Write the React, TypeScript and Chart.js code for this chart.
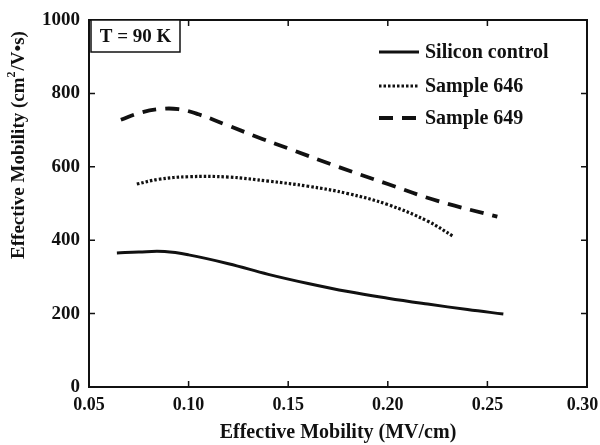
import React, { useEffect, useRef } from "react";
import { Chart, registerables } from "chart.js";
Chart.register(...registerables);

const siliconX = [0.064, 0.075, 0.088, 0.1, 0.12, 0.14, 0.16, 0.18, 0.2, 0.22, 0.24, 0.258];
const siliconY = [365, 368, 369, 360, 336, 307, 282, 260, 242, 226, 211, 199];
const s646X = [0.074, 0.085, 0.1, 0.12, 0.14, 0.16, 0.18, 0.2, 0.22, 0.233];
const s646Y = [553, 566, 573, 572, 561, 547, 527, 497, 452, 410];
const s649X = [0.066, 0.075, 0.085, 0.095, 0.105, 0.12, 0.137, 0.15, 0.175, 0.2, 0.225, 0.255];
const s649Y = [728, 746, 757, 757, 743, 712, 676, 650, 600, 553, 507, 464];
const seriesNames = ["Silicon control", "Sample 646", "Sample 649"];
const xTicks = [0.05, 0.1, 0.15, 0.2, 0.25, 0.3];
const yTicks = [0, 200, 400, 600, 800, 1000];
const annotation = "T = 90 K";
const xTitle = "Effective Mobility (MV/cm)";
const yTitleA = "Effective Mobility (cm";
const yTitleSup = "2";
const yTitleB = "/V•s)";

const FONT = "'Liberation Serif', 'DejaVu Serif', serif";
const dashes = [[], [2.5, 2], [14, 9]];
const widths = [3, 3.2, 3.8];

const framePlugin = {
  id: "frame",
  afterDatasetsDraw(chart: any) {
    const { ctx, chartArea: a, scales } = chart;
    ctx.save();
    ctx.strokeStyle = "#111";
    ctx.lineWidth = 2;
    ctx.strokeRect(a.left, a.top, a.right - a.left, a.bottom - a.top);
    ctx.lineWidth = 1.5;
    const tl = 6;
    xTicks.forEach((v) => {
      const px = scales.x.getPixelForValue(v);
      ctx.beginPath();
      ctx.moveTo(px, a.bottom);
      ctx.lineTo(px, a.bottom - tl);
      ctx.moveTo(px, a.top);
      ctx.lineTo(px, a.top + tl);
      ctx.stroke();
    });
    yTicks.forEach((v) => {
      const py = scales.y.getPixelForValue(v);
      ctx.beginPath();
      ctx.moveTo(a.left, py);
      ctx.lineTo(a.left + tl, py);
      ctx.moveTo(a.right, py);
      ctx.lineTo(a.right - tl, py);
      ctx.stroke();
    });
    // annotation box
    ctx.fillStyle = "#fff";
    const bx = a.left + 2, by = a.top, bw = 89, bh = 32;
    ctx.fillRect(bx, by, bw, bh);
    ctx.lineWidth = 1.5;
    ctx.strokeRect(bx, by, bw, bh);
    ctx.fillStyle = "#111";
    ctx.font = "bold 19px " + FONT;
    ctx.textAlign = "center";
    ctx.textBaseline = "middle";
    ctx.fillText(annotation, bx + bw / 2, by + bh / 2 + 1);
    // legend
    const lx1 = 379, lx2 = 419, tx = 425;
    const rows = [52, 86, 118];
    ctx.textAlign = "left";
    ctx.font = "bold 20px " + FONT;
    seriesNames.forEach((n, i) => {
      ctx.beginPath();
      ctx.setLineDash(dashes[i]);
      ctx.lineWidth = widths[i];
      ctx.moveTo(lx1, rows[i]);
      ctx.lineTo(lx2, rows[i]);
      ctx.stroke();
      ctx.setLineDash([]);
      ctx.fillText(n, tx, rows[i] + 1);
    });
    // y title with superscript
    ctx.save();
    ctx.translate(19, 145);
    ctx.rotate(-Math.PI / 2);
    const fMain = "bold 19px " + FONT;
    const fSup = "bold 12px " + FONT;
    ctx.font = fMain;
    const wA = ctx.measureText(yTitleA).width;
    const wB = ctx.measureText(yTitleB).width;
    ctx.font = fSup;
    const wS = ctx.measureText(yTitleSup).width;
    const total = wA + wS + 1 + wB;
    let x0 = -total / 2;
    ctx.textAlign = "left";
    ctx.textBaseline = "middle";
    ctx.font = fMain;
    ctx.fillText(yTitleA, x0, 0);
    x0 += wA;
    ctx.font = fSup;
    ctx.fillText(yTitleSup, x0, -7);
    x0 += wS + 1;
    ctx.font = fMain;
    ctx.fillText(yTitleB, x0, 0);
    ctx.restore();
    ctx.restore();
  },
};

export default function App() {
  const ref = useRef<HTMLCanvasElement>(null);
  useEffect(() => {
    document.body.style.margin = "0";
    const mk = (xs: number[], ys: number[], i: number) => ({
      label: seriesNames[i],
      data: xs.map((x, k) => ({ x, y: ys[k] })),
      borderColor: "#111",
      borderWidth: widths[i],
      borderDash: dashes[i],
      pointRadius: 0,
      tension: 0.4,
      fill: false,
    });
    const lastX = xTicks[xTicks.length - 1];
    const chart = new Chart(ref.current!, {
      type: "line",
      data: {
        datasets: [
          mk(siliconX, siliconY, 0),
          mk(s646X, s646Y, 1),
          mk(s649X, s649Y, 2),
        ],
      },
      options: {
        animation: false,
        responsive: false,
        layout: { padding: { top: 20, right: 13, left: 0, bottom: 0 } },
        plugins: { legend: { display: false }, tooltip: { enabled: false } },
        scales: {
          x: {
            type: "linear",
            min: 0.05,
            max: 0.3,
            afterBuildTicks: (s: any) => {
              s.ticks = xTicks.map((v) => ({ value: v }));
            },
            afterFit: (s: any) => {
              s.height = 58;
              s.paddingRight = 0;
              s.paddingLeft = 0;
            },
            grid: { display: false, drawTicks: false },
            border: { display: false },
            ticks: {
              color: "#111",
              padding: 8,
              maxRotation: 0,
              font: { family: FONT, size: 18, weight: "bold" },
              callback: (v: any) =>
                Math.abs(Number(v) - lastX) < 1e-9
                  ? Number(v).toFixed(2) + "\u2002"
                  : Number(v).toFixed(2),
            },
            title: {
              display: true,
              text: xTitle,
              color: "#111",
              padding: { top: 0, bottom: 0 },
              font: { family: FONT, size: 20, weight: "bold" },
            },
          },
          y: {
            type: "linear",
            min: 0,
            max: 1000,
            afterBuildTicks: (s: any) => {
              s.ticks = yTicks.map((v) => ({ value: v }));
            },
            afterFit: (s: any) => {
              s.width = 89;
              s.paddingTop = 0;
              s.paddingBottom = 0;
            },
            grid: { display: false, drawTicks: false },
            border: { display: false },
            ticks: {
              color: "#111",
              padding: 9,
              font: { family: FONT, size: 19, weight: "bold" },
              callback: (v: any) => String(v),
            },
          },
        },
      } as any,
      plugins: [framePlugin],
    });
    return () => chart.destroy();
  }, []);
  return (
    <div style={{ width: 600, height: 445, background: "#fff" }}>
      <canvas ref={ref} width={600} height={445} />
    </div>
  );
}
